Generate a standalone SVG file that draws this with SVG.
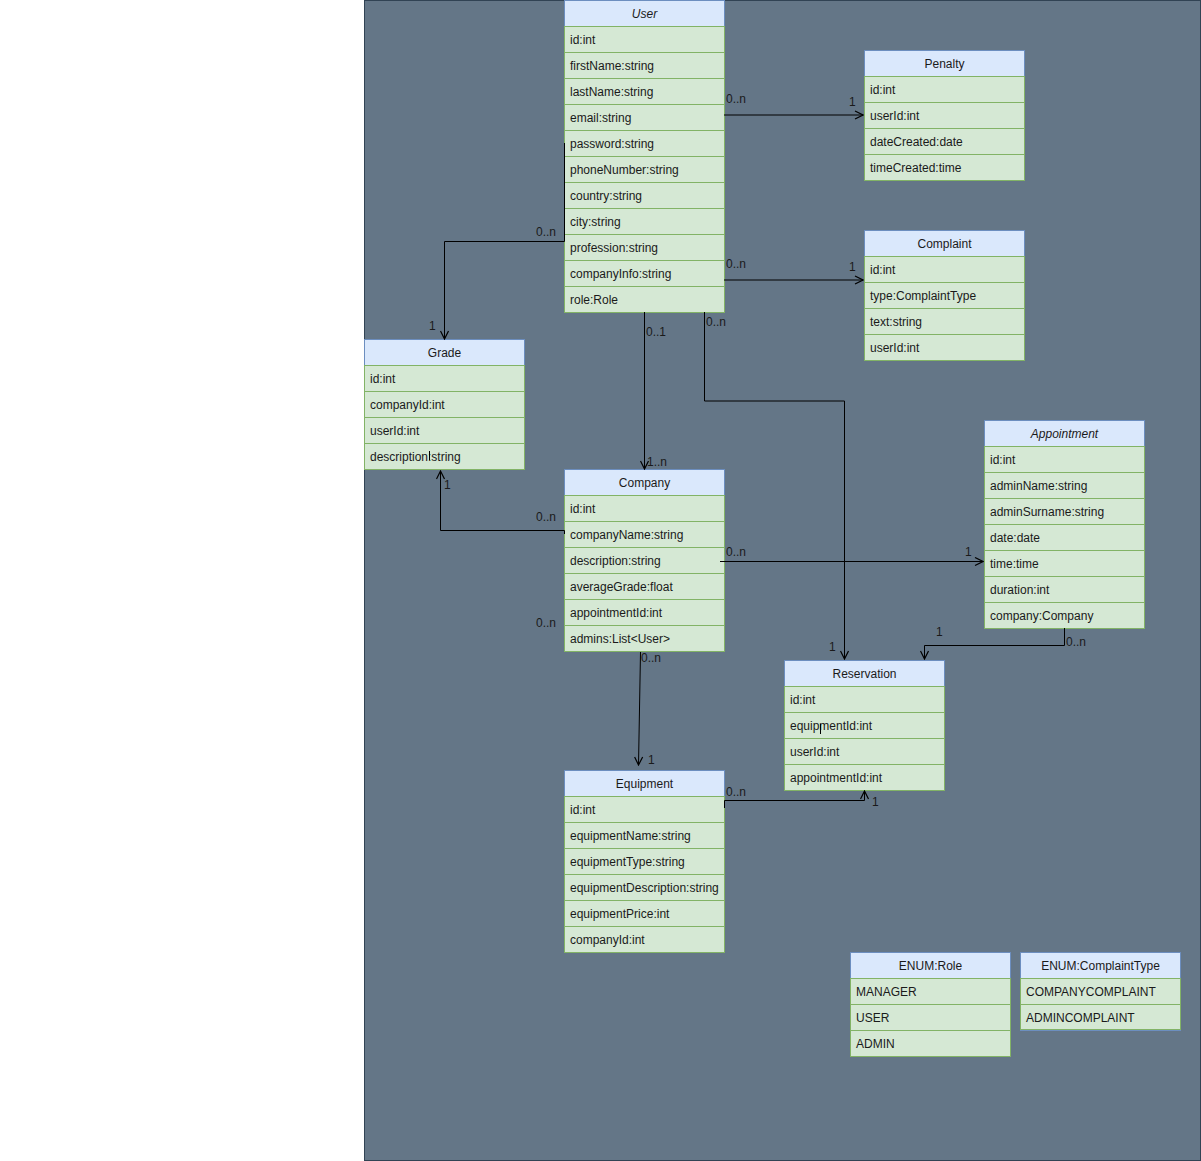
<svg xmlns="http://www.w3.org/2000/svg" width="1201" height="1161" viewBox="0 0 1201 1161">
<defs>
<style>
.h{fill:#dae8fc;stroke:#6c8ebf;stroke-width:1}
.r{fill:#d5e8d4;stroke:#82b366;stroke-width:1}
text{font-family:"Liberation Sans",Arial,sans-serif;font-size:12px;fill:#1a1a1a}
.t{text-anchor:middle}
.i{font-style:italic}
.e{fill:none;stroke:#000;stroke-width:1}
.l{font-size:12px}
</style>
<marker id="a" viewBox="0 0 10 10" refX="9" refY="5" markerWidth="10" markerHeight="10" markerUnits="userSpaceOnUse" orient="auto">
<path d="M1,1 L9,5 L1,9" fill="none" stroke="#000" stroke-width="1.2"/>
</marker>
</defs>
<rect x="0" y="0" width="1201" height="1161" fill="#ffffff"/>
<rect x="364.5" y="0.5" width="836" height="1160" fill="#647687" stroke="#314354"/>

<g id="User">
<rect class="h" x="564.5" y="0.5" width="160" height="26"/>
<text class="t i" x="644.5" y="18">User</text>
<rect class="r" x="564.5" y="26.5" width="160" height="26"/><text x="570" y="44">id:int</text>
<rect class="r" x="564.5" y="52.5" width="160" height="26"/><text x="570" y="70">firstName:string</text>
<rect class="r" x="564.5" y="78.5" width="160" height="26"/><text x="570" y="96">lastName:string</text>
<rect class="r" x="564.5" y="104.5" width="160" height="26"/><text x="570" y="122">email:string</text>
<rect class="r" x="564.5" y="130.5" width="160" height="26"/><text x="570" y="148">password:string</text>
<rect class="r" x="564.5" y="156.5" width="160" height="26"/><text x="570" y="174">phoneNumber:string</text>
<rect class="r" x="564.5" y="182.5" width="160" height="26"/><text x="570" y="200">country:string</text>
<rect class="r" x="564.5" y="208.5" width="160" height="26"/><text x="570" y="226">city:string</text>
<rect class="r" x="564.5" y="234.5" width="160" height="26"/><text x="570" y="252">profession:string</text>
<rect class="r" x="564.5" y="260.5" width="160" height="26"/><text x="570" y="278">companyInfo:string</text>
<rect class="r" x="564.5" y="286.5" width="160" height="26"/><text x="570" y="304">role:Role</text>
</g>

<g id="Penalty">
<rect class="h" x="864.5" y="50.5" width="160" height="26"/>
<text class="t" x="944.5" y="68">Penalty</text>
<rect class="r" x="864.5" y="76.5" width="160" height="26"/><text x="870" y="94">id:int</text>
<rect class="r" x="864.5" y="102.5" width="160" height="26"/><text x="870" y="120">userId:int</text>
<rect class="r" x="864.5" y="128.5" width="160" height="26"/><text x="870" y="146">dateCreated:date</text>
<rect class="r" x="864.5" y="154.5" width="160" height="26"/><text x="870" y="172">timeCreated:time</text>
</g>

<g id="Complaint">
<rect class="h" x="864.5" y="230.5" width="160" height="26"/>
<text class="t" x="944.5" y="248">Complaint</text>
<rect class="r" x="864.5" y="256.5" width="160" height="26"/><text x="870" y="274">id:int</text>
<rect class="r" x="864.5" y="282.5" width="160" height="26"/><text x="870" y="300">type:ComplaintType</text>
<rect class="r" x="864.5" y="308.5" width="160" height="26"/><text x="870" y="326">text:string</text>
<rect class="r" x="864.5" y="334.5" width="160" height="26"/><text x="870" y="352">userId:int</text>
</g>

<g id="Grade">
<rect class="h" x="364.5" y="339.5" width="160" height="26"/>
<text class="t" x="444.5" y="357">Grade</text>
<rect class="r" x="364.5" y="365.5" width="160" height="26"/><text x="370" y="383">id:int</text>
<rect class="r" x="364.5" y="391.5" width="160" height="26"/><text x="370" y="409">companyId:int</text>
<rect class="r" x="364.5" y="417.5" width="160" height="26"/><text x="370" y="435">userId:int</text>
<rect class="r" x="364.5" y="443.5" width="160" height="26"/><text x="370" y="461">description:string</text>
</g>

<g id="Company">
<rect class="h" x="564.5" y="469.5" width="160" height="26"/>
<text class="t" x="644.5" y="487">Company</text>
<rect class="r" x="564.5" y="495.5" width="160" height="26"/><text x="570" y="513">id:int</text>
<rect class="r" x="564.5" y="521.5" width="160" height="26"/><text x="570" y="539">companyName:string</text>
<rect class="r" x="564.5" y="547.5" width="160" height="26"/><text x="570" y="565">description:string</text>
<rect class="r" x="564.5" y="573.5" width="160" height="26"/><text x="570" y="591">averageGrade:float</text>
<rect class="r" x="564.5" y="599.5" width="160" height="26"/><text x="570" y="617">appointmentId:int</text>
<rect class="r" x="564.5" y="625.5" width="160" height="26"/><text x="570" y="643">admins:List&lt;User&gt;</text>
</g>

<g id="Appointment">
<rect class="h" x="984.5" y="420.5" width="160" height="26"/>
<text class="t i" x="1064.5" y="438">Appointment</text>
<rect class="r" x="984.5" y="446.5" width="160" height="26"/><text x="990" y="464">id:int</text>
<rect class="r" x="984.5" y="472.5" width="160" height="26"/><text x="990" y="490">adminName:string</text>
<rect class="r" x="984.5" y="498.5" width="160" height="26"/><text x="990" y="516">adminSurname:string</text>
<rect class="r" x="984.5" y="524.5" width="160" height="26"/><text x="990" y="542">date:date</text>
<rect class="r" x="984.5" y="550.5" width="160" height="26"/><text x="990" y="568">time:time</text>
<rect class="r" x="984.5" y="576.5" width="160" height="26"/><text x="990" y="594">duration:int</text>
<rect class="r" x="984.5" y="602.5" width="160" height="26"/><text x="990" y="620">company:Company</text>
</g>

<g id="Reservation">
<rect class="h" x="784.5" y="660.5" width="160" height="26"/>
<text class="t" x="864.5" y="678">Reservation</text>
<rect class="r" x="784.5" y="686.5" width="160" height="26"/><text x="790" y="704">id:int</text>
<rect class="r" x="784.5" y="712.5" width="160" height="26"/><text x="790" y="730">equipmentId:int</text>
<rect class="r" x="784.5" y="738.5" width="160" height="26"/><text x="790" y="756">userId:int</text>
<rect class="r" x="784.5" y="764.5" width="160" height="26"/><text x="790" y="782">appointmentId:int</text>
</g>

<g id="Equipment">
<rect class="h" x="564.5" y="770.5" width="160" height="26"/>
<text class="t" x="644.5" y="788">Equipment</text>
<rect class="r" x="564.5" y="796.5" width="160" height="26"/><text x="570" y="814">id:int</text>
<rect class="r" x="564.5" y="822.5" width="160" height="26"/><text x="570" y="840">equipmentName:string</text>
<rect class="r" x="564.5" y="848.5" width="160" height="26"/><text x="570" y="866">equipmentType:string</text>
<rect class="r" x="564.5" y="874.5" width="160" height="26"/><text x="570" y="892">equipmentDescription:string</text>
<rect class="r" x="564.5" y="900.5" width="160" height="26"/><text x="570" y="918">equipmentPrice:int</text>
<rect class="r" x="564.5" y="926.5" width="160" height="26"/><text x="570" y="944">companyId:int</text>
</g>

<g id="EnumRole">
<rect class="h" x="850.5" y="952.5" width="160" height="26"/>
<text class="t" x="930.5" y="970">ENUM:Role</text>
<rect class="r" x="850.5" y="978.5" width="160" height="26"/><text x="856" y="996">MANAGER</text>
<rect class="r" x="850.5" y="1004.5" width="160" height="26"/><text x="856" y="1022">USER</text>
<rect class="r" x="850.5" y="1030.5" width="160" height="26"/><text x="856" y="1048">ADMIN</text>
</g>

<g id="EnumComplaintType">
<rect class="h" x="1020.5" y="952.5" width="160" height="78"/>
<text class="t" x="1100.5" y="970">ENUM:ComplaintType</text>
<rect class="r" x="1020.5" y="978.5" width="160" height="26"/><text x="1026" y="996">COMPANYCOMPLAINT</text>
<rect class="r" x="1020.5" y="1004.5" width="160" height="25"/><text x="1026" y="1022">ADMINCOMPLAINT</text>
</g>

<g id="connectors">
<path class="e" d="M724,115 H863" marker-end="url(#a)"/>
<path class="e" d="M724,280 H863" marker-end="url(#a)"/>
<path class="e" d="M564.5,143 V241.5 H444.5 V339" marker-end="url(#a)"/>
<path class="e" d="M644.5,312 V469" marker-end="url(#a)"/>
<path class="e" d="M704.5,312 V401 H844.5 V659" marker-end="url(#a)"/>
<path class="e" d="M564.5,534 V530.5 H440.5 V471" marker-end="url(#a)"/>
<path class="e" d="M720,561.5 H983" marker-end="url(#a)"/>
<path class="e" d="M640.5,652 L638.5,765" marker-end="url(#a)"/>
<path class="e" d="M1064.5,628 V645.5 H924.5 V659" marker-end="url(#a)"/>
<path class="e" d="M724.5,808 V800.5 H864.5 V791" marker-end="url(#a)"/>
<path class="e" d="M820.5,724 V734"/>
<path class="e" d="M429.5,451 V460"/>
<text class="l" x="726" y="103">0..n</text>
<text class="l" x="849" y="106">1</text>
<text class="l" x="726" y="268">0..n</text>
<text class="l" x="849" y="271">1</text>
<text class="l" x="536" y="236">0..n</text>
<text class="l" x="429" y="330">1</text>
<text class="l" x="646" y="336">0..1</text>
<text class="l" x="647" y="466">1..n</text>
<text class="l" x="706" y="326">0..n</text>
<text class="l" x="829" y="651">1</text>
<text class="l" x="536" y="521">0..n</text>
<text class="l" x="444" y="489">1</text>
<text class="l" x="726" y="556">0..n</text>
<text class="l" x="965" y="556">1</text>
<text class="l" x="641" y="662">0..n</text>
<text class="l" x="648" y="764">1</text>
<text class="l" x="1066" y="646">0..n</text>
<text class="l" x="936" y="636">1</text>
<text class="l" x="726" y="796">0..n</text>
<text class="l" x="872" y="806">1</text>
<text class="l" x="536" y="627">0..n</text>
</g>
</svg>
